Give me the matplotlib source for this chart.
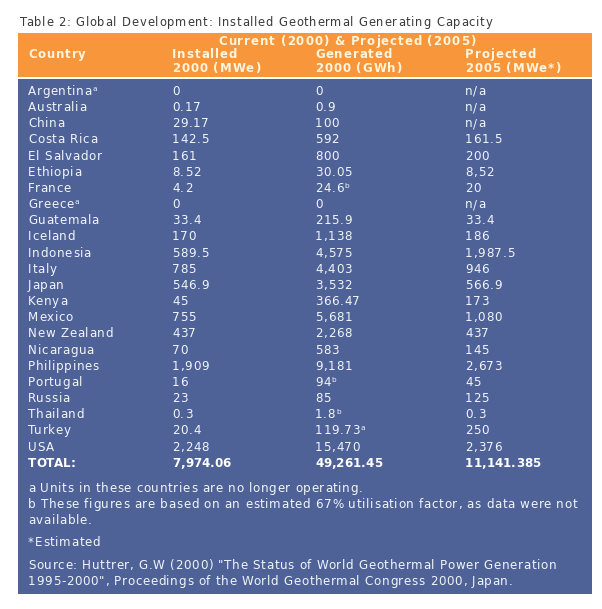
import matplotlib
matplotlib.use("Agg")
import matplotlib.pyplot as plt
from matplotlib.patches import Rectangle
from matplotlib.font_manager import FontProperties, findfont
from matplotlib.ft2font import FT2Font, Kerning

title = "Table 2: Global Development: Installed Geothermal Generating Capacity"
group_header = "Current (2000) & Projected (2005)"
col_headers = ["Country", "Installed\n2000 (MWe)", "Generated\n2000 (GWh)", "Projected\n2005 (MWe*)"]

countries = ["Argentina\u1d43", "Australia", "China", "Costa Rica", "El Salvador", "Ethiopia",
             "France", "Greece\u1d43", "Guatemala", "Iceland", "Indonesia", "Italy", "Japan",
             "Kenya", "Mexico", "New Zealand", "Nicaragua", "Philippines", "Portugal",
             "Russia", "Thailand", "Turkey", "USA"]
installed = ["0", "0.17", "29.17", "142.5", "161", "8.52", "4.2", "0", "33.4", "170",
             "589.5", "785", "546.9", "45", "755", "437", "70", "1,909", "16", "23",
             "0.3", "20.4", "2,248"]
generated = ["0", "0.9", "100", "592", "800", "30.05", "24.6\u1d47", "0", "215.9", "1,138",
             "4,575", "4,403", "3,532", "366.47", "5,681", "2,268", "583", "9,181",
             "94\u1d47", "85", "1.8\u1d47", "119.73\u1d43", "15,470"]
projected = ["n/a", "n/a", "n/a", "161.5", "200", "8,52", "20", "n/a", "33.4", "186",
             "1,987.5", "946", "566.9", "173", "1,080", "437", "145", "2,673", "45",
             "125", "0.3", "250", "2,376"]
totals = ["TOTAL:", "7,974.06", "49,261.45", "11,141.385"]

footnotes = [
    "a Units in these countries are no longer operating.",
    "b These figures are based on an estimated 67% utilisation factor, as data were not",
    "available.",
]
estimated_note = "*Estimated"
source_lines = [
    "Source: Huttrer, G.W (2000) \"The Status of World Geothermal Power Generation",
    "1995-2000\", Proceedings of the World Geothermal Congress 2000, Japan.",
]

ORANGE = "#F7963A"
BLUE = "#4E6297"
CREAM = "#FFF4DC"
TXT = "#F2F4FA"
DPI = 100

W, H = 602, 609
fig = plt.figure(figsize=(W / DPI, H / DPI), dpi=DPI)
ax = fig.add_axes([0, 0, 1, 1])
ax.set_xlim(0, W)
ax.set_ylim(H, 0)
ax.axis("off")

FAM = "DejaVu Sans"
_fonts = {}


def advances(s, weight, size, family=FAM):
    key = (family, weight, size)
    if key not in _fonts:
        prop = FontProperties(family=family, weight=weight, size=size)
        f = FT2Font(findfont(prop))
        f.set_size(size, DPI)
        _fonts[key] = f
    f = _fonts[key]
    out = []
    prev = None
    for c in s:
        g = f.load_char(ord(c))
        adv = g.linearHoriAdvance / 65536.0
        kern = 0.0
        if prev is not None:
            kern = f.get_kerning(f.get_char_index(ord(prev)), f.get_char_index(ord(c)),
                                 Kerning.DEFAULT) / 64.0
        out.append((kern, adv))
        prev = c
    return out


def fit_track(s, target, weight, size):
    adv = advances(s, weight, size)
    nat = sum(k + a for k, a in adv)
    return max(0.0, (target - nat) / (len(s) - 1))


def ttext(x, y, s, size, track, color=TXT, weight="normal", ha="left"):
    """Draw s with extra letter spacing; y is the visual centre of the capitals."""
    adv = advances(s, weight, size)
    total = sum(k + a for k, a in adv) + track * (len(s) - 1)
    if ha == "center":
        x = x - total / 2.0
    base = y + 0.365 * size * DPI / 72.0
    pos = x
    for c, (k, a) in zip(s, adv):
        pos += k
        if c != " ":
            ax.text(pos, base, c, fontsize=size, color=color, fontweight=weight,
                    family=FAM, ha="left", va="baseline")
        pos += a + track


T_SIZE, B_SIZE, H_SIZE = 8.3, 8.6, 8.5
t_track = fit_track(title, 472, "normal", T_SIZE)
b_track = fit_track(footnotes[1], 549, "normal", B_SIZE)
h_track = fit_track("2000 (MWe)", 88, "bold", H_SIZE)
tot_track = fit_track(totals[1], 59, "bold", B_SIZE)

ttext(20, 22, title, T_SIZE, t_track, color="#3a3a3a")

ax.add_patch(Rectangle((18, 33), 574, 44, facecolor=ORANGE, edgecolor="none"))
ax.add_patch(Rectangle((18, 79), 574, 515, facecolor=BLUE, edgecolor="none"))

col_x = [28, 172, 315, 465]
ttext(347, 41, group_header, H_SIZE, h_track, color=CREAM, weight="bold", ha="center")
ttext(col_x[0], 54, col_headers[0], H_SIZE, h_track, color=CREAM, weight="bold")
for x, h in zip(col_x[1:], col_headers[1:]):
    l1, l2 = h.split("\n")
    ttext(x, 54, l1, H_SIZE, h_track, color=CREAM, weight="bold")
    ttext(x, 67.5, l2, H_SIZE, h_track, color=CREAM, weight="bold")

y0, dy = 90.5, 16.17
for i, row in enumerate(zip(countries, installed, generated, projected)):
    y = y0 + i * dy
    for x, v in zip(col_x, row):
        ttext(x, y, v, B_SIZE, b_track)
yt = y0 + len(countries) * dy
for x, v in zip(col_x, totals):
    ttext(x, yt, v, B_SIZE, tot_track, color="white", weight="bold")

for j, line in enumerate(footnotes):
    ttext(28, 488 + j * 16, line, B_SIZE, b_track)
ttext(28, 542, estimated_note, B_SIZE, b_track)
for j, line in enumerate(source_lines):
    ttext(28, 565 + j * 16, line, B_SIZE, b_track)

fig.savefig("out.png", dpi=DPI, facecolor="white")
